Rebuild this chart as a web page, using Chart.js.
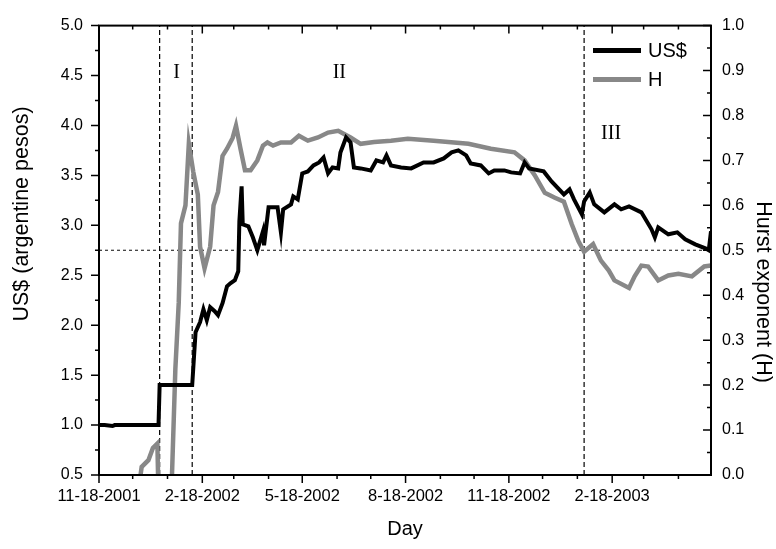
<!DOCTYPE html>
<html>
<head>
<meta charset="utf-8">
<script src="https://cdn.jsdelivr.net/npm/chart.js@4.4.1/dist/chart.umd.min.js"></script>
<style>
  html, body { margin: 0; padding: 0; background: #fff; }
  canvas { display: block; }
</style>
</head>
<body>
<canvas id="chart" width="776" height="549"></canvas>
<script>
// Days counted from 11-18-2001
const xTickLabels = ['11-18-2001', '2-18-2002', '5-18-2002', '8-18-2002', '11-18-2002', '2-18-2003'];
const regimeBreaks = [54, 83, 432];

// US$ exchange rate (argentine pesos)
const usdDays = [0, 5, 12, 14, 53, 54, 83, 86, 90, 93, 96, 99, 103, 106, 110, 114, 117, 121, 124, 125,
  127, 128, 133, 137, 141, 146, 147, 151, 159, 162, 164, 171, 173, 177, 181, 186, 191, 196, 200, 204,
  208, 213, 215, 220, 224, 227, 233, 242, 247, 253, 256, 260, 269, 278, 289, 298, 307, 314, 320, 327,
  331, 340, 347, 352, 361, 367, 375, 379, 383, 396, 403, 414, 419, 423, 430, 432, 437, 441, 450, 459,
  465, 472, 483, 492, 495, 498, 507, 515, 522, 531, 540, 543, 545];
const usdValues = [1.00, 1.00, 0.99, 1.00, 1.00, 1.40, 1.40, 1.93, 2.03, 2.16, 2.05, 2.18, 2.14, 2.10, 2.22, 2.39, 2.42, 2.45, 2.54, 3.04,
  3.39, 3.01, 2.99, 2.88, 2.75, 2.94, 2.80, 3.18, 3.18, 2.93, 3.16, 3.21, 3.29, 3.26, 3.52, 3.54, 3.60, 3.63, 3.68, 3.52,
  3.58, 3.57, 3.73, 3.88, 3.83, 3.58, 3.57, 3.55, 3.65, 3.63, 3.70, 3.60, 3.58, 3.57, 3.63, 3.63, 3.67, 3.73, 3.75, 3.70,
  3.62, 3.60, 3.52, 3.55, 3.55, 3.53, 3.52, 3.63, 3.57, 3.54, 3.44, 3.31, 3.36, 3.26, 3.11, 3.24, 3.33, 3.21, 3.13, 3.21,
  3.16, 3.19, 3.13, 2.96, 2.88, 2.98, 2.91, 2.93, 2.86, 2.81, 2.77, 2.75, 2.94];

// Hurst exponent
const hurstDays = [34, 37, 38, 44, 48, 52, 53, 64, 65, 68, 71, 73, 77, 80, 84, 88, 90, 94, 99, 102,
  106, 110, 114, 119, 122, 126, 130, 135, 141, 146, 150, 155, 162, 171, 178, 186, 195, 204, 213, 224,
  233, 245, 260, 275, 298, 329, 349, 370, 379, 388, 397, 406, 414, 421, 427, 432, 440, 447, 454, 459,
  472, 477, 483, 489, 498, 507, 516, 528, 539, 545];
const hurstValues = [-0.03, 0.00, 0.018, 0.033, 0.06, 0.07, -0.05, -0.05, 0.00, 0.236, 0.383, 0.56, 0.60, 0.737, 0.674, 0.624, 0.508, 0.46, 0.508, 0.60,
  0.63, 0.71, 0.726, 0.75, 0.777, 0.726, 0.678, 0.678, 0.70, 0.733, 0.74, 0.733, 0.74, 0.74, 0.755, 0.744, 0.751, 0.762, 0.766, 0.751,
  0.737, 0.741, 0.744, 0.748, 0.744, 0.737, 0.726, 0.718, 0.70, 0.667, 0.628, 0.617, 0.608, 0.558, 0.52, 0.497, 0.514, 0.477, 0.455, 0.433,
  0.416, 0.442, 0.466, 0.464, 0.433, 0.444, 0.448, 0.442, 0.464, 0.466];

const START = Date.UTC(2001, 10, 18);
function dayOf(y, m, d) {
    return Math.round((Date.UTC(y, m - 1, d) - START) / 86400000);
}
function labelToDay(label) {
    const [m, d, y] = label.split('-').map(Number);
    return dayOf(y, m, d);
}
const xTickDays = xTickLabels.map(labelToDay);
const X_MAX = 545;

// monthly minor ticks on the 18th
const xMinorDays = [];
for (let i = 0; i < 20; i++) {
    const day = dayOf(2001, 11 + i, 18);
    if (day <= X_MAX && !xTickDays.includes(day)) xMinorDays.push(day);
}

const toPoints = (xs, ys) => xs.map((x, i) => ({ x: x, y: ys[i] }));

const datasets = [
    {
        label: 'US$', data: toPoints(usdDays, usdValues), yAxisID: 'y',
        borderColor: '#000', borderWidth: 4, pointRadius: 0, tension: 0, clip: 0
    },
    {
        label: 'H', data: toPoints(hurstDays, hurstValues), yAxisID: 'y1',
        borderColor: '#888888', borderWidth: 4.5, pointRadius: 0, tension: 0, clip: 0
    }
];
regimeBreaks.forEach(d => {
    datasets.push({
        label: 'break', data: [{ x: d, y: 0.5 }, { x: d, y: 5.0 }], yAxisID: 'y',
        borderColor: '#000', borderWidth: 1.2, borderDash: [5, 3], pointRadius: 0
    });
});
datasets.push({
    label: 'H = 0.5', data: [{ x: 0, y: 0.5 }, { x: X_MAX, y: 0.5 }], yAxisID: 'y1',
    borderColor: '#333', borderWidth: 1.2, borderDash: [3, 3], pointRadius: 0
});

const FONT = '"Liberation Sans", Arial, sans-serif';

// frame, inward/outward ticks, legend, region labels and axis titles
const decorPlugin = {
    id: 'decor',
    afterDatasetsDraw(chart) {
        const { ctx, chartArea: a, scales } = chart;
        ctx.save();
        ctx.strokeStyle = '#000';
        ctx.lineWidth = 2;
        ctx.strokeRect(a.left, a.top, a.right - a.left, a.bottom - a.top);

        ctx.lineWidth = 1.5;
        ctx.beginPath();
        // left axis: outward
        for (let i = 0; i <= 18; i++) {
            const py = scales.y.getPixelForValue(0.5 + i * 0.25);
            const len = i % 2 === 0 ? 8 : 4;
            ctx.moveTo(a.left - len, py); ctx.lineTo(a.left, py);
        }
        // right axis: inward
        for (let i = 0; i <= 20; i++) {
            const py = scales.y1.getPixelForValue(i * 0.05);
            const len = i % 2 === 0 ? 8 : 4;
            ctx.moveTo(a.right - len, py); ctx.lineTo(a.right, py);
        }
        // bottom outward, top inward
        const drawX = (d, len) => {
            const px = scales.x.getPixelForValue(d);
            ctx.moveTo(px, a.bottom); ctx.lineTo(px, a.bottom + len);
            ctx.moveTo(px, a.top); ctx.lineTo(px, a.top + len);
        };
        xTickDays.forEach(d => drawX(d, 8));
        xMinorDays.forEach(d => drawX(d, 4));
        ctx.stroke();

        // legend
        const items = [['US$', '#000'], ['H', '#888888']];
        items.forEach(([text, color], i) => {
            const ly = a.top + 25 + i * 29;
            ctx.strokeStyle = color;
            ctx.lineWidth = 5;
            ctx.beginPath();
            ctx.moveTo(a.right - 118, ly); ctx.lineTo(a.right - 70, ly);
            ctx.stroke();
            ctx.fillStyle = '#000';
            ctx.font = '20px ' + FONT;
            ctx.textBaseline = 'middle';
            ctx.textAlign = 'left';
            ctx.fillText(text, a.right - 63, ly + 1);
        });

        // regime labels
        ctx.font = '20px "Liberation Serif", "Times New Roman", serif';
        ctx.textAlign = 'center';
        ctx.textBaseline = 'middle';
        ctx.fillText('I', scales.x.getPixelForValue(69), scales.y.getPixelForValue(4.53));
        ctx.fillText('II', scales.x.getPixelForValue(214), scales.y.getPixelForValue(4.53));
        ctx.fillText('III', scales.x.getPixelForValue(456), scales.y.getPixelForValue(3.92));

        // axis titles
        ctx.font = '20px ' + FONT;
        ctx.fillText('Day', (a.left + a.right) / 2, 529);
        ctx.font = '21.5px ' + FONT;
        ctx.save();
        ctx.translate(22, 214);
        ctx.rotate(-Math.PI / 2);
        ctx.fillText('US$ (argentine pesos)', 0, 0);
        ctx.restore();
        ctx.save();
        ctx.translate(763, 292);
        ctx.rotate(Math.PI / 2);
        ctx.fillText('Hurst exponent (H)', 0, 0);
        ctx.restore();
        ctx.restore();
    }
};

new Chart(document.getElementById('chart'), {
    type: 'line',
    data: { datasets: datasets },
    plugins: [decorPlugin],
    options: {
        responsive: false,
        animation: false,
        devicePixelRatio: 1,
        layout: { padding: { top: 18, left: 0, right: 0, bottom: 0 } },
        plugins: { legend: { display: false }, tooltip: { enabled: false } },
        scales: {
            x: {
                type: 'linear', position: 'bottom', min: 0, max: X_MAX,
                grid: { display: false, drawTicks: false }, border: { display: false },
                afterBuildTicks: scale => { scale.ticks = xTickDays.map(v => ({ value: v })); },
                afterFit: scale => { scale.height = 74; },
                ticks: {
                    autoSkip: false, maxRotation: 0, padding: 12, color: '#000',
                    font: { family: FONT, size: 16.5 },
                    callback: (value, index) => xTickLabels[index]
                }
            },
            y: {
                type: 'linear', position: 'left', min: 0.5, max: 5.0,
                grid: { display: false, drawTicks: false }, border: { display: false },
                afterFit: scale => { scale.width = 99; },
                ticks: {
                    stepSize: 0.5, padding: 16, color: '#000',
                    font: { family: FONT, size: 16 },
                    callback: v => v.toFixed(1)
                }
            },
            y1: {
                type: 'linear', position: 'right', min: 0, max: 1.0,
                grid: { display: false, drawTicks: false }, border: { display: false },
                afterFit: scale => { scale.width = 65; },
                ticks: {
                    stepSize: 0.1, padding: 11, color: '#000',
                    font: { family: FONT, size: 16 },
                    callback: v => v.toFixed(1)
                }
            }
        }
    }
});
</script>
</body>
</html>
